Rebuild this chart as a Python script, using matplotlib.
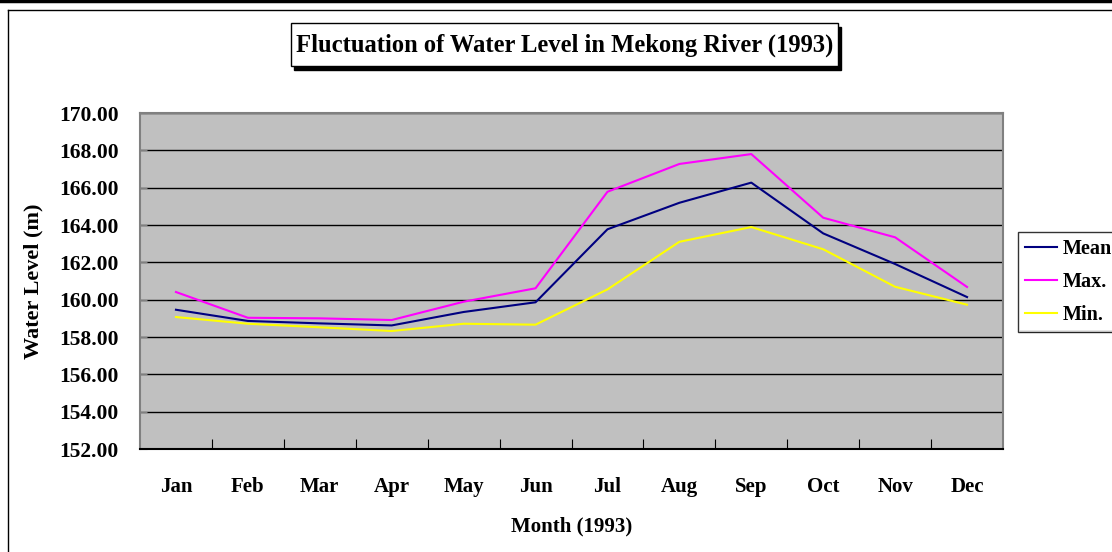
import matplotlib
matplotlib.use('Agg')
import matplotlib.pyplot as plt
from matplotlib.patches import Rectangle
from matplotlib.lines import Line2D

months = ['Jan', 'Feb', 'Mar', 'Apr', 'May', 'Jun', 'Jul', 'Aug', 'Sep', 'Oct', 'Nov', 'Dec']
mean_level = [159.46, 158.86, 158.73, 158.62, 159.34, 159.86, 163.77, 165.19, 166.27, 163.55, 161.91, 160.14]
max_level = [160.41, 159.03, 159.00, 158.91, 159.89, 160.61, 165.78, 167.27, 167.80, 164.39, 163.34, 160.68]
min_level = [159.07, 158.71, 158.52, 158.32, 158.71, 158.66, 160.55, 163.10, 163.89, 162.70, 160.69, 159.73]
yticks = [152, 154, 156, 158, 160, 162, 164, 166, 168, 170]

W, H = 1112, 552
plt.rcParams['font.family'] = ['Liberation Serif', 'DejaVu Serif']
plt.rcParams['font.weight'] = 'bold'

fig = plt.figure(figsize=(W / 100, H / 100), dpi=100)


def fx(px):
    return px / W


def fy(py):
    return 1 - py / H


# chart area frame and top bar
fig.add_artist(Line2D([0, 1], [fy(1), fy(1)], color='black', lw=2.5))
fig.add_artist(Line2D([fx(8), 1], [fy(10), fy(10)], color='black', lw=1))
fig.add_artist(Line2D([fx(8), fx(8)], [fy(10), 0], color='black', lw=1))

ax = fig.add_axes([fx(140), fy(449), fx(1003) - fx(140), fy(113) - fy(449)])
ax.set_facecolor('#C0C0C0')
x = list(range(len(months)))
ax.plot(x, mean_level, color='#000080', lw=1.5, label='Mean')
ax.plot(x, max_level, color='#FF00FF', lw=1.5, label='Max.')
ax.plot(x, min_level, color='#FFFF00', lw=1.5, label='Min.')

ax.set_xlim(-0.5, 11.5)
ax.set_ylim(152, 170)
ax.set_yticks(yticks)
ax.set_yticklabels(['%.2f' % v for v in yticks], fontsize=15.5, fontweight='bold')
ax.yaxis.grid(True, color='black', lw=1)
ax.set_axisbelow(True)
ax.set_xticks([i + 0.5 for i in range(11)])
ax.set_xticklabels([])
ax.set_xticks(x, minor=True)
ax.set_xticklabels(months, minor=True, fontsize=15, fontweight='bold')
ax.tick_params(axis='x', which='major', direction='in', length=7, color='black')
ax.tick_params(axis='x', which='minor', length=0, pad=20)
ax.tick_params(axis='y', direction='in', length=5, color='#808080', pad=15.5)
for s in ['left', 'top', 'right']:
    ax.spines[s].set_color('#808080')
    ax.spines[s].set_linewidth(1.5)
ax.spines['bottom'].set_color('black')
ax.spines['bottom'].set_linewidth(1.5)

ax.set_xlabel('Month (1993)', fontsize=15, fontweight='bold', labelpad=14)
ax.set_ylabel('Water Level (m)', fontsize=16, fontweight='bold', labelpad=11)

# title box with shadow
fig.add_artist(Rectangle((fx(294), fy(70)), fx(838) - fx(291), fy(23) - fy(66),
                         transform=fig.transFigure, facecolor='black', edgecolor='black'))
fig.add_artist(Rectangle((fx(291), fy(66)), fx(838) - fx(291), fy(23) - fy(66),
                         transform=fig.transFigure, facecolor='white', edgecolor='black', lw=1))
fig.text(fx(564.5), fy(45), 'Fluctuation of Water Level in Mekong River (1993)',
         ha='center', va='center', fontsize=17.7, fontweight='bold')

# legend shadow
fig.add_artist(Rectangle((fx(1020), fy(333)), fx(1112) - fx(1020), fy(330) - fy(333),
                         transform=fig.transFigure, facecolor='#808080', edgecolor='none'))
leg = fig.legend(loc='upper left', bbox_to_anchor=(fx(1018), fy(232)), fontsize=14.5,
                 frameon=True, fancybox=False, edgecolor='black', handlelength=1.6,
                 handletextpad=0.25, borderpad=0.35, labelspacing=0.64, borderaxespad=0)
leg.get_frame().set_linewidth(1)
leg.set_zorder(5)
for t in leg.get_texts():
    t.set_fontweight('bold')

fig.savefig('out.png', dpi=100)
